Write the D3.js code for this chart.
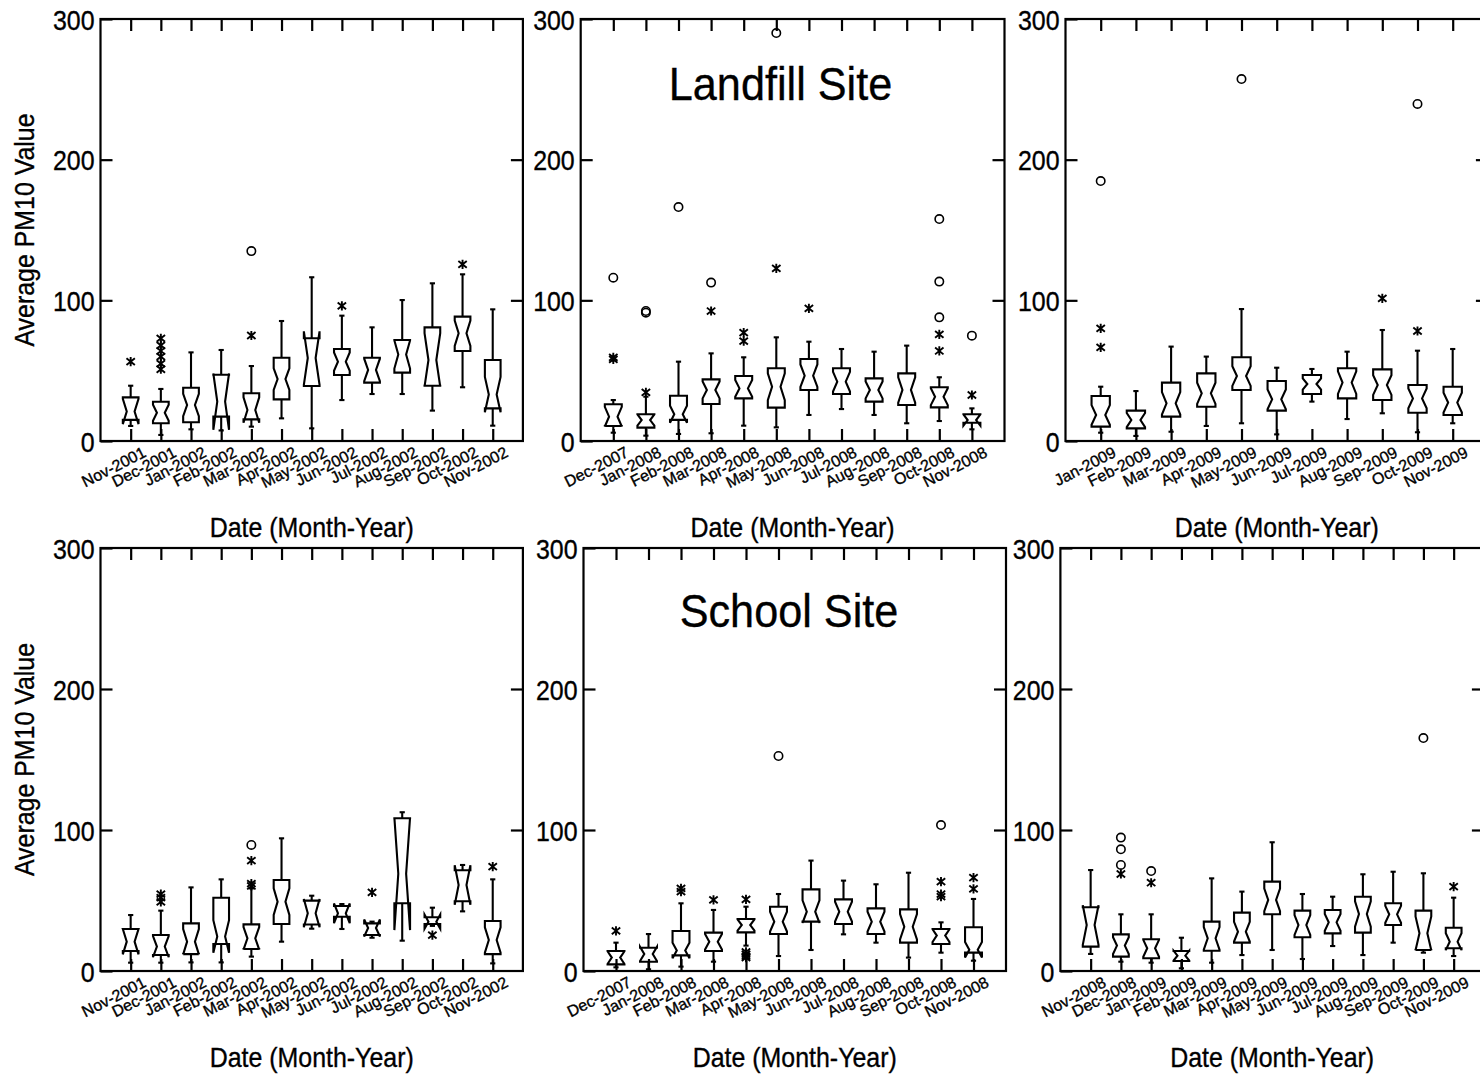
<!DOCTYPE html>
<html><head><meta charset="utf-8">
<script src="https://cdn.jsdelivr.net/npm/d3@7"></script>
<style>
body{margin:0;background:#fff}
svg{display:block;background:#fff}
text{font-family:"Liberation Sans",Arial,Helvetica,sans-serif;fill:#000;stroke:#000;stroke-width:0.35px}
</style>
</head><body>
<svg id="chart" width="1480" height="1074"></svg>
<script>
// ---------- categories ----------
const cats2002 = ["Nov-2001","Dec-2001","Jan-2002","Feb-2002","Mar-2002","Apr-2002","May-2002","Jun-2002","Jul-2002","Aug-2002","Sep-2002","Oct-2002","Nov-2002"];
const cats2008 = ["Dec-2007","Jan-2008","Feb-2008","Mar-2008","Apr-2008","May-2008","Jun-2008","Jul-2008","Aug-2008","Sep-2008","Oct-2008","Nov-2008"];
const cats2009 = ["Jan-2009","Feb-2009","Mar-2009","Apr-2009","May-2009","Jun-2009","Jul-2009","Aug-2009","Sep-2009","Oct-2009","Nov-2009"];
const cats2009b = ["Nov-2008","Dec-2008","Jan-2009","Feb-2009","Mar-2009","Apr-2009","May-2009","Jun-2009","Jul-2009","Aug-2009","Sep-2009","Oct-2009","Nov-2009"];
const yTicks = [0, 100, 200, 300];

// ---------- Landfill 2001-2002 ----------
const lf2002Lo    = [10.7, 4.3, 8.3, 7.5, 10.2, 16.1, 9, 29.1, 33.4, 33.4, 21.6, 38.2, 10.9];
const lf2002Q1    = [15, 12.6, 13.3, 17.3, 15.4, 29.6, 39.1, 46.9, 41.5, 48.6, 39.3, 64, 23.2];
const lf2002Med   = [21, 20.1, 25.6, 28, 22, 44, 59, 56.4, 50.5, 61.5, 57.6, 76.6, 33];
const lf2002Q3    = [31, 27.9, 37.9, 47.1, 33.9, 59.2, 73, 65.4, 59.2, 71.8, 80.8, 88.4, 57.6];
const lf2002Hi    = [39.3, 37, 63, 64.7, 53.3, 85.3, 116.4, 89.1, 80.8, 100.2, 112.1, 118.5, 93.6];
const lf2002Notch = [9, 5.7, 8, 20, 9, 7.7, 19, 6.5, 8, 10, 19, 9, 12.5];
const lf2002Out   = [[56.4],[73,68,64,60,55,51],[],[],[75],[],[],[96],[],[],[],[125.6],[]];
const lf2002Far   = [[],[],[],[],[135],[],[],[],[],[],[],[],[]];

// ---------- Landfill 2007-2008 ----------
const lf2008Lo    = [5.9, 3.8, 5, 5.5, 10.9, 9.7, 18.5, 22.7, 18.5, 12.6, 14.2, 8.3];
const lf2008Q1    = [10.7, 9.5, 15, 26.3, 30.3, 23.7, 36.3, 33.4, 28, 25.6, 23.9, 13];
const lf2008Med   = [17.3, 14.9, 19, 36.3, 37.4, 38.6, 46.4, 42.2, 36.3, 36.3, 31.5, 14.9];
const lf2008Q3    = [26.1, 19, 32.2, 43.8, 46.2, 51.7, 58.3, 51.7, 44.5, 48.1, 38.2, 19];
const lf2008Hi    = [29.1, 31.5, 56.4, 62.3, 59.5, 73.7, 70.6, 65.4, 63.5, 67.8, 45.3, 23.2];
const lf2008Notch = [7, 4, 6, 6, 6, 9.5, 8, 7, 6, 9, 6, 4];
const lf2008Out   = [[58, 59.5],[34.6],[],[92.4],[77, 71],[122.7],[94.3],[],[],[],[75.8, 64],[32.7]];
const lf2008Far   = [[116.1],[92.4, 91.2],[166.3],[112.6],[],[290],[],[],[],[],[157.8, 113.3, 87.9],[74.9]];

// ---------- Landfill 2009 ----------
const lf2009Lo    = [5.9, 3.6, 6.6, 10.7, 12.6, 4.7, 28, 15.6, 19.7, 6.2, 12.6];
const lf2009Q1    = [10.2, 9, 17.3, 24.4, 36.3, 21.6, 33.4, 30.3, 29.1, 20.1, 18.5];
const lf2009Med   = [18.5, 14.9, 26.8, 33.9, 46.2, 29.6, 40.5, 41.5, 39.8, 30.3, 27.3];
const lf2009Q3    = [32, 21.6, 41.5, 48.1, 59.5, 42.7, 46.9, 51.7, 50.9, 39.8, 38.6];
const lf2009Hi    = [38.6, 35.5, 67.1, 60, 93.8, 52.1, 51.2, 63.5, 78.9, 64.2, 65.4];
const lf2009Notch = [7, 5, 8, 7.5, 7, 7, 4, 8, 7, 7, 7];
const lf2009Out   = [[80.1, 66.6],[],[],[],[],[],[],[],[101.4],[78.2],[]];
const lf2009Far   = [[184.8],[],[],[],[257.3],[],[],[],[],[239.6],[]];

// ---------- School 2001-2002 ----------
const sc2002Lo    = [5.9, 5.9, 6.1, 6.1, 10.2, 20.8, 30, 29.8, 23.6, 21.5, 32, 42.3, 5.4];
const sc2002Q1    = [14.2, 11.3, 12, 19.1, 15.6, 33.3, 33, 38.5, 25.5, 48, 33.3, 49.5, 12];
const sc2002Med   = [20.8, 17.3, 20.8, 24.5, 23.2, 49.2, 41, 40.9, 30.5, 69, 35, 61, 22];
const sc2002Q3    = [29.8, 25.5, 33.8, 52, 33.1, 64.5, 49.9, 46.1, 33.8, 108.3, 38.1, 71.5, 35.5];
const sc2002Hi    = [39.7, 42.8, 59.3, 65, 58.6, 94.1, 53.4, 47.5, 35, 112.6, 44.9, 75.2, 65];
const sc2002Notch = [9, 7.5, 9, 11.5, 8, 9.5, 10, 7, 6, 40, 5, 14, 9];
const sc2002Out   = [[],[54.5, 52, 49],[],[],[78.3, 62, 60.3],[],[],[],[55.8],[],[25.5],[],[74]];
const sc2002Far   = [[],[],[],[],[89.4],[],[],[],[],[],[],[],[]];

// ---------- School 2007-2008 ----------
const sc2008Lo    = [2.6, 1.2, 3.1, 6.6, 18, 10.6, 14.9, 26, 20.1, 9.5, 13, 7.3];
const sc2008Q1    = [4.7, 6.6, 11.1, 14.2, 27.4, 26.2, 35, 33.3, 26.2, 20.1, 19.1, 13];
const sc2008Med   = [9.5, 12.1, 14.5, 20.8, 32.6, 35, 42.1, 42.1, 35, 31.4, 25.1, 15];
const sc2008Q3    = [14.2, 16.5, 28.4, 27.2, 36.9, 45.6, 57.9, 50.8, 44.4, 43.7, 29.8, 31];
const sc2008Hi    = [20.1, 26.2, 48, 43.3, 45.6, 54.6, 78.3, 64.1, 61.5, 69.7, 34.5, 51.1];
const sc2008Notch = [4.5, 5, 5.5, 5.5, 4, 7, 8, 7, 7, 9, 4.5, 5.5];
const sc2008Out   = [[28.4],[],[58.6, 56.3],[50.4],[50.8, 13.5, 12, 10.5, 9.5],[],[],[],[],[],[63.4, 54.6, 52.7],[66.2, 58.2]];
const sc2008Far   = [[],[],[],[],[],[152.5],[],[],[],[],[103.5],[]];

// ---------- School 2008-2009 ----------
const sc2009Lo    = [12.1, 6.6, 5.9, 1.9, 5.9, 11.3, 14.9, 8.5, 17.7, 11.3, 20.1, 13, 10.6];
const sc2009Q1    = [17.3, 10.2, 9, 7.1, 14.4, 20.1, 40.2, 23.9, 26.7, 27.2, 32.6, 14.9, 16.1];
const sc2009Med   = [32.6, 18, 16.1, 10.9, 23.2, 27.9, 50.4, 32.6, 34.5, 40.4, 40.2, 26.7, 20.8];
const sc2009Q3    = [45.2, 26, 22.5, 14.2, 35, 41.4, 63.4, 42.8, 43.3, 52.7, 48, 42.8, 30.7];
const sc2009Hi    = [71.6, 40.2, 40.2, 23.6, 65.7, 56.3, 91.3, 54.6, 52.7, 68.6, 70.4, 69.3, 52];
const sc2009Notch = [14, 6, 6, 3.5, 8, 7, 8, 7, 6, 9, 6, 12, 6];
const sc2009Out   = [[],[68.8],[62.6],[],[],[],[],[],[],[],[],[],[59.8]];
const sc2009Far   = [[],[94.6, 86.3, 75.2],[70.9],[],[],[],[],[],[],[],[],[165.2],[]];

// ---------- texts ----------
const yTitle = "Average PM10 Value";
const xTitle = "Date (Month-Year)";

// ---------- layout ----------
const panels = [
  {cats:cats2002, lo:lf2002Lo, q1:lf2002Q1, med:lf2002Med, q3:lf2002Q3, hi:lf2002Hi, ci:lf2002Notch, out:lf2002Out, far:lf2002Far,
   x0:100.5, x1:522.9, top:19, bottom:441, ylab:true, title:null},
  {cats:cats2008, lo:lf2008Lo, q1:lf2008Q1, med:lf2008Med, q3:lf2008Q3, hi:lf2008Hi, ci:lf2008Notch, out:lf2008Out, far:lf2008Far,
   x0:580.7, x1:1004.5, top:19, bottom:441, ylab:false, title:"Landfill Site", tx:780.5, ty:100},
  {cats:cats2009, lo:lf2009Lo, q1:lf2009Q1, med:lf2009Med, q3:lf2009Q3, hi:lf2009Hi, ci:lf2009Notch, out:lf2009Out, far:lf2009Far,
   x0:1065.5, x1:1487.9, top:19, bottom:441, ylab:false, title:null},
  {cats:cats2002, lo:sc2002Lo, q1:sc2002Q1, med:sc2002Med, q3:sc2002Q3, hi:sc2002Hi, ci:sc2002Notch, out:sc2002Out, far:sc2002Far,
   x0:100.5, x1:522.9, top:548, bottom:971, ylab:true, title:null},
  {cats:cats2008, lo:sc2008Lo, q1:sc2008Q1, med:sc2008Med, q3:sc2008Q3, hi:sc2008Hi, ci:sc2008Notch, out:sc2008Out, far:sc2008Far,
   x0:583.5, x1:1006, top:548, bottom:971, ylab:false, title:"School Site", tx:789, ty:627},
  {cats:cats2009b, lo:sc2009Lo, q1:sc2009Q1, med:sc2009Med, q3:sc2009Q3, hi:sc2009Hi, ci:sc2009Notch, out:sc2009Out, far:sc2009Far,
   x0:1060.4, x1:1483.9, top:548, bottom:971, ylab:false, title:null}
];

const svg = d3.select("#chart");
svg.append("rect").attr("width",1480).attr("height",1074).attr("fill","#fff");

const SX = 0.89;   // horizontal glyph compression of the original font
const lw = 2.1;

function drawPanel(p) {
  const g = svg.append("g");
  const x = d3.scalePoint().domain(p.cats).range([p.x0, p.x1]).padding(1);
  const y = d3.scaleLinear().domain([0, 300]).range([p.bottom, p.top]);
  const bw = x.step() * 0.52, inset = bw / 4, cap = 2.6;

  // frame
  g.append("rect").attr("x", p.x0).attr("y", p.top)
    .attr("width", p.x1 - p.x0).attr("height", p.bottom - p.top)
    .attr("fill", "none").attr("stroke", "#000").attr("stroke-width", 2.2);

  // left axis (ticks inward, labels outside)
  const la = g.append("g").attr("transform", `translate(${p.x0},0)`)
    .call(d3.axisLeft(y).tickValues(yTicks).tickSizeInner(-12).tickSizeOuter(0).tickPadding(6).tickFormat(d3.format("d")));
  la.select(".domain").remove();
  la.selectAll("line").attr("stroke", "#000").attr("stroke-width", 2.2);
  la.selectAll("text").attr("font-size", 28).attr("font-family", null)
    .attr("transform", `scale(${SX},1)`).attr("x", -6 / SX).attr("dy", "0.36em");

  // right axis ticks
  const ra = g.append("g").attr("transform", `translate(${p.x1},0)`)
    .call(d3.axisRight(y).tickValues([100, 200]).tickSizeInner(-12).tickSizeOuter(0).tickFormat(""));
  ra.select(".domain").remove();
  ra.selectAll("line").attr("stroke", "#000").attr("stroke-width", 2.2);

  // top axis ticks
  const ta = g.append("g").attr("transform", `translate(0,${p.top})`)
    .call(d3.axisTop(x).tickSizeInner(-12).tickSizeOuter(0).tickFormat(""));
  ta.select(".domain").remove();
  ta.selectAll("line").attr("stroke", "#000").attr("stroke-width", 2.2);

  // bottom axis with rotated labels
  const ba = g.append("g").attr("transform", `translate(0,${p.bottom})`)
    .call(d3.axisBottom(x).tickSizeInner(-12).tickSizeOuter(0));
  ba.select(".domain").remove();
  ba.selectAll("line").attr("stroke", "#000").attr("stroke-width", 2.2);
  ba.selectAll("text").attr("font-size", 16).attr("font-family", null)
    .attr("x", 0).attr("y", 0).attr("dy", 0)
    .attr("text-anchor", "end")
    .attr("transform", `translate(16,15) rotate(-27)`);

  // boxes
  const idx = d3.range(p.cats.length);
  const bg = g.append("g").attr("fill", "none").attr("stroke", "#000").attr("stroke-width", lw)
    .attr("stroke-linejoin", "miter");
  idx.forEach(i => {
    const cx = x(p.cats[i]);
    const L = cx - bw / 2, R = cx + bw / 2;
    const nHi = p.med[i] + p.ci[i], nLo = p.med[i] - p.ci[i];
    const path = d3.path();
    path.moveTo(L, y(p.q3[i]));
    path.lineTo(L, y(nHi));
    path.lineTo(L + inset, y(p.med[i]));
    path.lineTo(L, y(nLo));
    path.lineTo(L, y(p.q1[i]));
    path.lineTo(R, y(p.q1[i]));
    path.lineTo(R, y(nLo));
    path.lineTo(R - inset, y(p.med[i]));
    path.lineTo(R, y(nHi));
    path.lineTo(R, y(p.q3[i]));
    path.closePath();
    bg.append("path").attr("d", path.toString());
    // whiskers
    bg.append("line").attr("x1", cx).attr("x2", cx).attr("y1", y(p.q3[i])).attr("y2", y(p.hi[i]));
    bg.append("line").attr("x1", cx - cap).attr("x2", cx + cap).attr("y1", y(p.hi[i])).attr("y2", y(p.hi[i]));
    bg.append("line").attr("x1", cx).attr("x2", cx).attr("y1", y(p.q1[i])).attr("y2", y(p.lo[i]));
    bg.append("line").attr("x1", cx - cap).attr("x2", cx + cap).attr("y1", y(p.lo[i])).attr("y2", y(p.lo[i]));
    // outside values (asterisks)
    p.out[i].forEach(v => {
      bg.append("path").attr("transform", `translate(${cx},${y(v)})`)
        .attr("stroke-width", 1.9)
        .attr("d", "M0,-4.6V4.6M-4.2,-3.4L4.2,3.4M-4.2,3.4L4.2,-3.4");
    });
    // far outside values (circles)
    p.far[i].forEach(v => {
      bg.append("circle").attr("cx", cx).attr("cy", y(v)).attr("r", 4.2).attr("stroke-width", 1.6);
    });
  });

  // axis titles
  const cxPanel = (p.x0 + p.x1) / 2;
  g.append("text").attr("text-anchor", "middle").attr("font-size", 28)
    .attr("transform", `translate(${cxPanel},${p.bottom + 96}) scale(${SX},1)`)
    .text(xTitle);
  if (p.ylab) {
    g.append("text").attr("text-anchor", "middle").attr("font-size", 28)
      .attr("transform", `translate(34,${(p.top + p.bottom) / 2}) rotate(-90) scale(${SX},1)`)
      .text(yTitle);
  }
  if (p.title) {
    g.append("text").attr("text-anchor", "middle").attr("font-size", 47)
      .attr("transform", `translate(${p.tx},${p.ty}) scale(0.92,1)`)
      .text(p.title);
  }
}

panels.forEach(drawPanel);
</script>
</body></html>
